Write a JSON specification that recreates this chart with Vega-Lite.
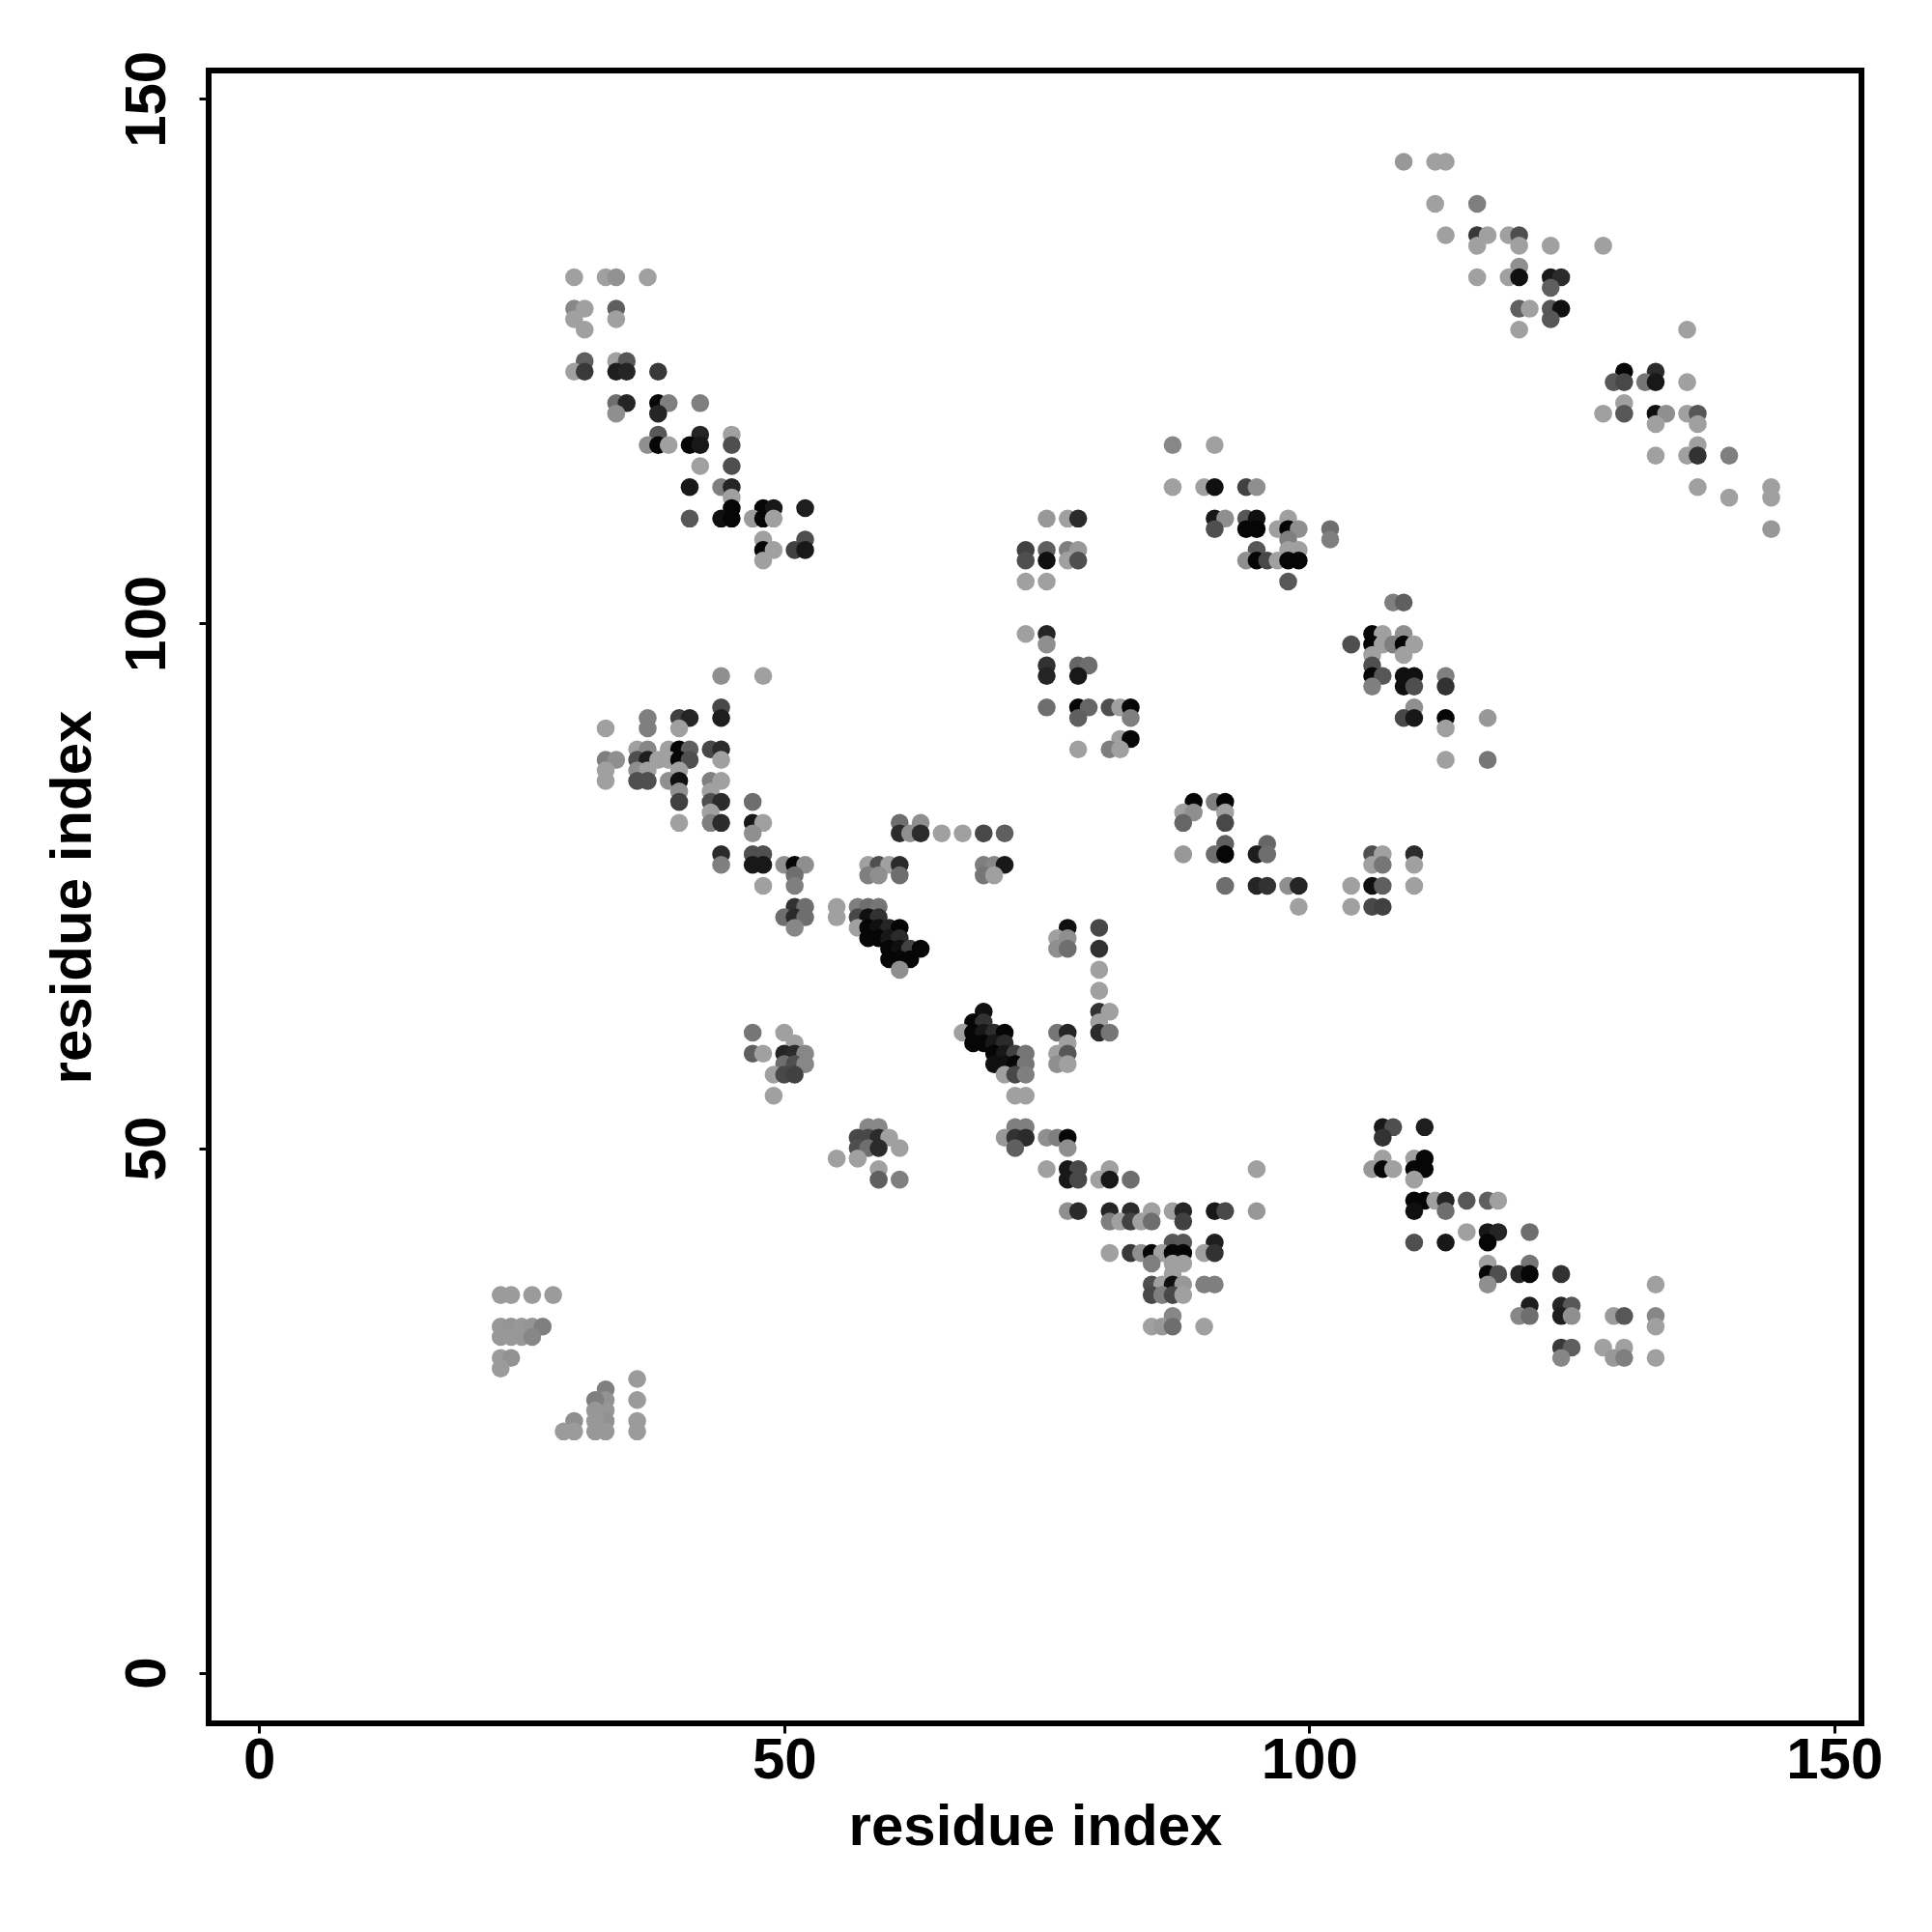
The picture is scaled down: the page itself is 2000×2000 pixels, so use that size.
{"$schema":"https://vega.github.io/schema/vega-lite/v6.json","autosize":{"type":"none"},"padding":{"left":216,"top":73,"right":73,"bottom":216},"width":1711,"height":1711,"background":"white","config":{"view":{"stroke":"#000000","strokeWidth":6,"fill":null}},"data":{"values":[
{"x":23,"y":36,"p":0.03},{"x":24,"y":36,"p":0.03},{"x":26,"y":36,"p":0.03},{"x":28,"y":36,"p":0.03},
{"x":23,"y":33,"p":0.05},{"x":24,"y":33,"p":0.07},{"x":25,"y":33,"p":0.05},{"x":26,"y":33,"p":0.07},{"x":27,"y":33,"p":0.2},
{"x":23,"y":32,"p":0.05},{"x":24,"y":32,"p":0.05},{"x":25,"y":32,"p":0.05},{"x":26,"y":32,"p":0.15},
{"x":23,"y":30,"p":0.03},{"x":24,"y":30,"p":0.08},{"x":23,"y":29,"p":0.03},
{"x":36,"y":28,"p":0.03},{"x":36,"y":26,"p":0.03},{"x":36,"y":24,"p":0.03},{"x":36,"y":23,"p":0.03},
{"x":33,"y":27,"p":0.2},{"x":33,"y":26,"p":0.08},{"x":33,"y":25,"p":0.06},{"x":33,"y":24,"p":0.08},{"x":33,"y":23,"p":0.05},
{"x":32,"y":26,"p":0.2},{"x":32,"y":25,"p":0.06},{"x":32,"y":24,"p":0.05},{"x":32,"y":23,"p":0.05},
{"x":30,"y":24,"p":0.1},{"x":30,"y":23,"p":0.03},{"x":29,"y":23,"p":0.03},

{"x":30,"y":133,"p":0},{"x":33,"y":133,"p":0},{"x":34,"y":133,"p":0.08},{"x":37,"y":133,"p":0},
{"x":30,"y":130,"p":0.15},{"x":31,"y":130,"p":0},{"x":34,"y":130,"p":0.4},{"x":30,"y":129,"p":0},{"x":34,"y":129,"p":0},{"x":31,"y":128,"p":0},
{"x":31,"y":125,"p":0.4},{"x":34,"y":125,"p":0},{"x":35,"y":125,"p":0.45},
{"x":30,"y":124,"p":0},{"x":31,"y":124,"p":0.65},{"x":34,"y":124,"p":0.85},{"x":35,"y":124,"p":0.8},{"x":38,"y":124,"p":0.65},
{"x":34,"y":121,"p":0.3},{"x":35,"y":121,"p":0.8},{"x":38,"y":121,"p":1},{"x":39,"y":121,"p":0.2},{"x":42,"y":121,"p":0.2},
{"x":34,"y":120,"p":0.1},{"x":38,"y":120,"p":0.8},
{"x":38,"y":118,"p":0.45},{"x":42,"y":118,"p":0.8},{"x":45,"y":118,"p":0},
{"x":37,"y":117,"p":0.1},{"x":38,"y":117,"p":1},{"x":39,"y":117,"p":0},{"x":41,"y":117,"p":1},{"x":42,"y":117,"p":0.9},{"x":45,"y":117,"p":0.5},
{"x":42,"y":115,"p":0},{"x":45,"y":115,"p":0.5},
{"x":41,"y":113,"p":0.9},{"x":44,"y":113,"p":0.2},{"x":45,"y":113,"p":0.8},{"x":45,"y":112,"p":0},
{"x":45,"y":111,"p":1},{"x":48,"y":111,"p":1},{"x":49,"y":111,"p":0.9},{"x":52,"y":111,"p":0.85},
{"x":41,"y":110,"p":0.45},{"x":44,"y":110,"p":0.95},{"x":45,"y":110,"p":1},{"x":47,"y":110,"p":0.03},{"x":48,"y":110,"p":1},{"x":49,"y":110,"p":0},
{"x":48,"y":108,"p":0},{"x":52,"y":108,"p":0.5},
{"x":48,"y":107,"p":1},{"x":49,"y":107,"p":0},{"x":51,"y":107,"p":0.6},{"x":52,"y":107,"p":0.9},{"x":48,"y":106,"p":0},

{"x":44,"y":95,"p":0.1},{"x":48,"y":95,"p":0},
{"x":44,"y":92,"p":0.55},
{"x":37,"y":91,"p":0.2},{"x":40,"y":91,"p":0.6},{"x":41,"y":91,"p":0.8},{"x":44,"y":91,"p":0.85},
{"x":33,"y":90,"p":0},{"x":37,"y":90,"p":0.2},{"x":40,"y":90,"p":0},
{"x":36,"y":88,"p":0},{"x":37,"y":88,"p":0.15},{"x":39,"y":88,"p":0},{"x":40,"y":88,"p":1},{"x":41,"y":88,"p":0.4},{"x":43,"y":88,"p":0.55},{"x":44,"y":88,"p":0.75},
{"x":33,"y":87,"p":0.2},{"x":34,"y":87,"p":0.1},{"x":36,"y":87,"p":0.5},{"x":37,"y":87,"p":0.85},{"x":38,"y":87,"p":0},{"x":39,"y":87,"p":0},{"x":40,"y":87,"p":1},{"x":41,"y":87,"p":0.5},{"x":44,"y":87,"p":0},
{"x":33,"y":86,"p":0},{"x":36,"y":86,"p":0.1},{"x":37,"y":86,"p":0},{"x":40,"y":86,"p":0},
{"x":33,"y":85,"p":0},{"x":36,"y":85,"p":0.5},{"x":37,"y":85,"p":0.5},{"x":39,"y":85,"p":0.1},{"x":40,"y":85,"p":0.95},{"x":43,"y":85,"p":0.2},{"x":44,"y":85,"p":0},
{"x":40,"y":84,"p":0.1},{"x":43,"y":84,"p":0},
{"x":40,"y":83,"p":0.6},{"x":43,"y":83,"p":0.5},{"x":44,"y":83,"p":0.75},{"x":47,"y":83,"p":0.3},
{"x":43,"y":82,"p":0},
{"x":40,"y":81,"p":0},{"x":43,"y":81,"p":0.2},{"x":44,"y":81,"p":0.75},{"x":47,"y":81,"p":0.9},{"x":48,"y":81,"p":0},{"x":47,"y":80,"p":0.1},
{"x":44,"y":78,"p":0.75},{"x":47,"y":78,"p":0.5},{"x":48,"y":78,"p":0.5},
{"x":44,"y":77,"p":0.2},{"x":47,"y":77,"p":0.9},{"x":48,"y":77,"p":0.9},{"x":50,"y":77,"p":0.1},{"x":51,"y":77,"p":1},{"x":52,"y":77,"p":0.1},
{"x":51,"y":76,"p":0.3},{"x":48,"y":75,"p":0},{"x":51,"y":75,"p":0.2},
{"x":51,"y":73,"p":0.7},{"x":52,"y":73,"p":0.3},
{"x":50,"y":72,"p":0.3},{"x":51,"y":72,"p":0.75},{"x":52,"y":72,"p":0.3},{"x":51,"y":71,"p":0.15},

{"x":61,"y":81,"p":0.3},{"x":63,"y":81,"p":0.1},
{"x":61,"y":80,"p":0.75},{"x":62,"y":80,"p":0.1},{"x":63,"y":80,"p":0.75},{"x":65,"y":80,"p":0},{"x":67,"y":80,"p":0},{"x":69,"y":80,"p":0.55},{"x":71,"y":80,"p":0.4},
{"x":58,"y":77,"p":0},{"x":59,"y":77,"p":0.5},{"x":60,"y":77,"p":0},{"x":61,"y":77,"p":0.75},{"x":69,"y":77,"p":0.2},{"x":70,"y":77,"p":0.15},{"x":71,"y":77,"p":0.9},
{"x":58,"y":76,"p":0.2},{"x":59,"y":76,"p":0.1},{"x":61,"y":76,"p":0.3},{"x":69,"y":76,"p":0.25},{"x":70,"y":76,"p":0},
{"x":55,"y":73,"p":0},{"x":57,"y":73,"p":0.2},{"x":58,"y":73,"p":0.3},{"x":59,"y":73,"p":0.25},
{"x":55,"y":72,"p":0},{"x":57,"y":72,"p":0.55},{"x":58,"y":72,"p":0.95},{"x":59,"y":72,"p":0.7},
{"x":57,"y":71,"p":0},{"x":58,"y":71,"p":1},{"x":59,"y":71,"p":0.95},{"x":60,"y":71,"p":0.8},{"x":61,"y":71,"p":1},
{"x":58,"y":70,"p":1},{"x":59,"y":70,"p":1},{"x":60,"y":70,"p":0.9},{"x":61,"y":70,"p":0.75},
{"x":60,"y":69,"p":1},{"x":61,"y":69,"p":0.95},{"x":62,"y":69,"p":0.6},{"x":63,"y":69,"p":1},
{"x":60,"y":68,"p":1},{"x":61,"y":68,"p":1},{"x":62,"y":68,"p":1},{"x":61,"y":67,"p":0.1},

{"x":47,"y":61,"p":0.25},{"x":50,"y":61,"p":0},{"x":51,"y":60,"p":0},
{"x":47,"y":59,"p":0.4},{"x":48,"y":59,"p":0},{"x":50,"y":59,"p":0.8},{"x":51,"y":59,"p":0.75},{"x":52,"y":59,"p":0.15},
{"x":50,"y":58,"p":0.3},{"x":51,"y":58,"p":0.5},{"x":52,"y":58,"p":0.15},
{"x":49,"y":57,"p":0},{"x":50,"y":57,"p":0.55},{"x":51,"y":57,"p":0.6},{"x":49,"y":55,"p":0},
{"x":58,"y":52,"p":0.15},{"x":59,"y":52,"p":0.15},
{"x":57,"y":51,"p":0.55},{"x":58,"y":51,"p":0.55},{"x":59,"y":51,"p":0.75},{"x":60,"y":51,"p":0},
{"x":57,"y":50,"p":0.5},{"x":58,"y":50,"p":0.3},{"x":59,"y":50,"p":0.75},{"x":61,"y":50,"p":0},
{"x":55,"y":49,"p":0},{"x":57,"y":49,"p":0},{"x":59,"y":48,"p":0},{"x":59,"y":47,"p":0.4},{"x":61,"y":47,"p":0.2},

{"x":69,"y":63,"p":0.95},{"x":68,"y":62,"p":1},{"x":69,"y":62,"p":0.7},
{"x":67,"y":61,"p":0},{"x":68,"y":61,"p":1},{"x":69,"y":61,"p":0.9},{"x":70,"y":61,"p":0.75},{"x":71,"y":61,"p":1},
{"x":68,"y":60,"p":1},{"x":69,"y":60,"p":1},{"x":70,"y":60,"p":0.9},{"x":71,"y":60,"p":0.75},
{"x":70,"y":59,"p":1},{"x":71,"y":59,"p":0.9},{"x":72,"y":59,"p":0.6},{"x":73,"y":59,"p":0.25},
{"x":70,"y":58,"p":0.95},{"x":71,"y":58,"p":0.95},{"x":72,"y":58,"p":1},{"x":73,"y":58,"p":0.25},
{"x":71,"y":57,"p":0},{"x":72,"y":57,"p":0.55},{"x":73,"y":57,"p":0.2},{"x":72,"y":55,"p":0},{"x":73,"y":55,"p":0},
{"x":76,"y":61,"p":0.25},{"x":77,"y":61,"p":0.8},{"x":77,"y":60,"p":0},{"x":76,"y":59,"p":0},{"x":77,"y":59,"p":0.45},{"x":76,"y":58,"p":0.1},{"x":77,"y":58,"p":0},
{"x":80,"y":65,"p":0},{"x":80,"y":63,"p":0.7},{"x":81,"y":63,"p":0},{"x":80,"y":62,"p":0},{"x":80,"y":61,"p":0.75},{"x":81,"y":61,"p":0.25},
{"x":77,"y":71,"p":0.95},{"x":80,"y":71,"p":0.55},{"x":76,"y":70,"p":0},{"x":77,"y":70,"p":0.1},{"x":76,"y":69,"p":0.1},{"x":77,"y":69,"p":0.3},{"x":80,"y":69,"p":0.7},{"x":80,"y":67,"p":0},

{"x":72,"y":52,"p":0.2},{"x":73,"y":52,"p":0.2},
{"x":71,"y":51,"p":0.05},{"x":72,"y":51,"p":0.7},{"x":73,"y":51,"p":0.75},{"x":75,"y":51,"p":0.1},{"x":76,"y":51,"p":0.2},{"x":77,"y":51,"p":1},
{"x":72,"y":50,"p":0.4},{"x":77,"y":50,"p":0.1},
{"x":75,"y":48,"p":0},{"x":77,"y":48,"p":0.9},{"x":78,"y":48,"p":0.55},{"x":81,"y":48,"p":0},{"x":95,"y":48,"p":0},
{"x":77,"y":47,"p":0.9},{"x":78,"y":47,"p":0.55},{"x":80,"y":47,"p":0},{"x":81,"y":47,"p":0.9},{"x":83,"y":47,"p":0.3},

{"x":77,"y":44,"p":0.1},{"x":78,"y":44,"p":0.75},{"x":81,"y":44,"p":0.8},{"x":83,"y":44,"p":0.75},{"x":85,"y":44,"p":0},{"x":87,"y":44,"p":0},{"x":88,"y":44,"p":0.8},{"x":91,"y":44,"p":0.9},{"x":92,"y":44,"p":0.55},{"x":95,"y":44,"p":0.05},
{"x":81,"y":43,"p":0.2},{"x":82,"y":43,"p":0},{"x":83,"y":43,"p":0.6},{"x":84,"y":43,"p":0},{"x":85,"y":43,"p":0.3},{"x":88,"y":43,"p":0.6},
{"x":87,"y":41,"p":0.45},{"x":88,"y":41,"p":0.45},{"x":91,"y":41,"p":0.85},
{"x":81,"y":40,"p":0},{"x":83,"y":40,"p":0.65},{"x":84,"y":40,"p":0.1},{"x":85,"y":40,"p":1},{"x":86,"y":40,"p":0},{"x":87,"y":40,"p":1},{"x":88,"y":40,"p":1},{"x":90,"y":40,"p":0},{"x":91,"y":40,"p":0.7},
{"x":85,"y":39,"p":0.2},{"x":87,"y":39,"p":0},{"x":88,"y":39,"p":0},{"x":87,"y":38,"p":0},
{"x":85,"y":37,"p":0.5},{"x":86,"y":37,"p":0},{"x":87,"y":37,"p":0.95},{"x":88,"y":37,"p":0.05},{"x":90,"y":37,"p":0.2},{"x":91,"y":37,"p":0.2},
{"x":85,"y":36,"p":0.55},{"x":86,"y":36,"p":0.2},{"x":87,"y":36,"p":0.55},{"x":88,"y":36,"p":0},
{"x":87,"y":34,"p":0.15},{"x":85,"y":33,"p":0},{"x":86,"y":33,"p":0.05},{"x":87,"y":33,"p":0.3},{"x":90,"y":33,"p":0},

{"x":107,"y":52,"p":0.9},{"x":108,"y":52,"p":0.5},{"x":111,"y":52,"p":0.85},{"x":107,"y":51,"p":0.7},
{"x":107,"y":49,"p":0},{"x":110,"y":49,"p":0},{"x":111,"y":49,"p":1},
{"x":106,"y":48,"p":0.05},{"x":107,"y":48,"p":1},{"x":108,"y":48,"p":0},{"x":110,"y":48,"p":1},{"x":111,"y":48,"p":1},{"x":110,"y":47,"p":0},
{"x":110,"y":45,"p":1},{"x":111,"y":45,"p":1},{"x":112,"y":45,"p":0},{"x":113,"y":45,"p":0.8},{"x":115,"y":45,"p":0.45},{"x":117,"y":45,"p":0.4},{"x":118,"y":45,"p":0},
{"x":110,"y":44,"p":0.95},{"x":113,"y":44,"p":0.3},
{"x":115,"y":42,"p":0},{"x":117,"y":42,"p":0.9},{"x":118,"y":42,"p":0.8},{"x":121,"y":42,"p":0.3},
{"x":110,"y":41,"p":0.5},{"x":113,"y":41,"p":0.9},{"x":117,"y":41,"p":1},
{"x":117,"y":39,"p":0},{"x":121,"y":39,"p":0.25},
{"x":117,"y":38,"p":1},{"x":118,"y":38,"p":0.5},{"x":120,"y":38,"p":0.8},{"x":121,"y":38,"p":1},{"x":124,"y":38,"p":0.7},
{"x":117,"y":37,"p":0.1},{"x":133,"y":37,"p":0},
{"x":121,"y":35,"p":0.85},{"x":124,"y":35,"p":0.8},{"x":125,"y":35,"p":0.45},
{"x":120,"y":34,"p":0.15},{"x":121,"y":34,"p":0.3},{"x":124,"y":34,"p":0.85},{"x":125,"y":34,"p":0.1},{"x":129,"y":34,"p":0.03},{"x":130,"y":34,"p":0.45},{"x":133,"y":34,"p":0.15},
{"x":133,"y":33,"p":0},
{"x":124,"y":31,"p":0.65},{"x":125,"y":31,"p":0.4},{"x":128,"y":31,"p":0},{"x":130,"y":31,"p":0},
{"x":124,"y":30,"p":0.15},{"x":129,"y":30,"p":0.05},{"x":130,"y":30,"p":0.2},{"x":133,"y":30,"p":0},

{"x":75,"y":110,"p":0.05},{"x":77,"y":110,"p":0},{"x":78,"y":110,"p":0.75},
{"x":73,"y":107,"p":0.6},{"x":75,"y":107,"p":0.4},{"x":77,"y":107,"p":0.2},{"x":78,"y":107,"p":0.05},
{"x":73,"y":106,"p":0.5},{"x":75,"y":106,"p":0.95},{"x":77,"y":106,"p":0},{"x":78,"y":106,"p":0.5},
{"x":73,"y":104,"p":0},{"x":75,"y":104,"p":0},
{"x":73,"y":99,"p":0},{"x":75,"y":99,"p":0.8},{"x":75,"y":98,"p":0.1},
{"x":75,"y":96,"p":0.7},{"x":78,"y":96,"p":0.35},{"x":79,"y":96,"p":0.3},
{"x":75,"y":95,"p":0.8},{"x":78,"y":95,"p":0.9},
{"x":75,"y":92,"p":0.3},{"x":78,"y":92,"p":1},{"x":79,"y":92,"p":0.35},{"x":81,"y":92,"p":0.5},{"x":82,"y":92,"p":0},{"x":83,"y":92,"p":1},
{"x":78,"y":91,"p":0.4},{"x":83,"y":91,"p":0.2},
{"x":82,"y":89,"p":0},{"x":83,"y":89,"p":1},{"x":78,"y":88,"p":0},{"x":81,"y":88,"p":0.2},{"x":82,"y":88,"p":0},

{"x":87,"y":117,"p":0.15},{"x":91,"y":117,"p":0},
{"x":87,"y":113,"p":0},{"x":90,"y":113,"p":0},{"x":91,"y":113,"p":0.95},{"x":94,"y":113,"p":0.6},{"x":95,"y":113,"p":0.1},
{"x":91,"y":110,"p":0.9},{"x":92,"y":110,"p":0.1},{"x":94,"y":110,"p":0.45},{"x":95,"y":110,"p":0.95},{"x":98,"y":110,"p":0},
{"x":91,"y":109,"p":0.5},{"x":94,"y":109,"p":1},{"x":95,"y":109,"p":1},{"x":97,"y":109,"p":0},{"x":98,"y":109,"p":1},{"x":99,"y":109,"p":0.1},{"x":102,"y":109,"p":0.3},
{"x":98,"y":108,"p":0.2},{"x":102,"y":108,"p":0.2},
{"x":95,"y":107,"p":0.45},{"x":98,"y":107,"p":0},{"x":99,"y":107,"p":0},
{"x":94,"y":106,"p":0.1},{"x":95,"y":106,"p":1},{"x":96,"y":106,"p":0.55},{"x":97,"y":106,"p":0},{"x":98,"y":106,"p":1},{"x":99,"y":106,"p":1},
{"x":98,"y":104,"p":0.45},

{"x":108,"y":102,"p":0.2},{"x":109,"y":102,"p":0.4},
{"x":106,"y":99,"p":1},{"x":107,"y":99,"p":0},{"x":109,"y":99,"p":0.1},
{"x":104,"y":98,"p":0.5},{"x":106,"y":98,"p":1},{"x":107,"y":98,"p":0},{"x":108,"y":98,"p":0.2},{"x":109,"y":98,"p":1},{"x":110,"y":98,"p":0},
{"x":106,"y":97,"p":0},{"x":109,"y":97,"p":0},{"x":106,"y":96,"p":0.5},
{"x":106,"y":95,"p":1},{"x":107,"y":95,"p":0.45},{"x":109,"y":95,"p":0.95},{"x":110,"y":95,"p":0.95},{"x":113,"y":95,"p":0.2},
{"x":106,"y":94,"p":0.2},{"x":109,"y":94,"p":0.95},{"x":110,"y":94,"p":0.5},{"x":113,"y":94,"p":0.7},
{"x":110,"y":92,"p":0.1},{"x":109,"y":91,"p":0.55},{"x":110,"y":91,"p":0.9},{"x":113,"y":91,"p":1},{"x":117,"y":91,"p":0.05},
{"x":113,"y":90,"p":0},{"x":113,"y":87,"p":0},{"x":117,"y":87,"p":0.25},

{"x":89,"y":83,"p":1},{"x":91,"y":83,"p":0.2},{"x":92,"y":83,"p":1},
{"x":88,"y":82,"p":0},{"x":89,"y":82,"p":0.1},{"x":92,"y":82,"p":0},
{"x":88,"y":81,"p":0.35},{"x":92,"y":81,"p":0.55},
{"x":92,"y":79,"p":0.4},{"x":96,"y":79,"p":0.35},
{"x":88,"y":78,"p":0.05},{"x":91,"y":78,"p":0.3},{"x":92,"y":78,"p":1},{"x":95,"y":78,"p":0.85},{"x":96,"y":78,"p":0.3},{"x":106,"y":78,"p":0.5},{"x":107,"y":78,"p":0},{"x":110,"y":78,"p":0.75},
{"x":106,"y":77,"p":0},{"x":107,"y":77,"p":0.25},{"x":110,"y":77,"p":0},
{"x":92,"y":75,"p":0.3},{"x":95,"y":75,"p":0.8},{"x":96,"y":75,"p":0.7},{"x":98,"y":75,"p":0.1},{"x":99,"y":75,"p":0.8},{"x":104,"y":75,"p":0},{"x":106,"y":75,"p":0.95},{"x":107,"y":75,"p":0.4},{"x":110,"y":75,"p":0},
{"x":99,"y":73,"p":0},{"x":104,"y":73,"p":0},{"x":106,"y":73,"p":0.55},{"x":107,"y":73,"p":0.6},

{"x":109,"y":144,"p":0.05},{"x":112,"y":144,"p":0},{"x":113,"y":144,"p":0},
{"x":112,"y":140,"p":0},{"x":116,"y":140,"p":0.2},
{"x":113,"y":137,"p":0},{"x":116,"y":137,"p":0.65},{"x":117,"y":137,"p":0},{"x":119,"y":137,"p":0},{"x":120,"y":137,"p":0.5},
{"x":116,"y":136,"p":0},{"x":120,"y":136,"p":0},{"x":123,"y":136,"p":0},{"x":128,"y":136,"p":0},
{"x":120,"y":134,"p":0.1},
{"x":116,"y":133,"p":0},{"x":119,"y":133,"p":0},{"x":120,"y":133,"p":0.95},{"x":123,"y":133,"p":0.9},{"x":124,"y":133,"p":0.75},
{"x":123,"y":132,"p":0.4},
{"x":120,"y":130,"p":0.4},{"x":121,"y":130,"p":0},{"x":123,"y":130,"p":0.45},{"x":124,"y":130,"p":0.95},
{"x":123,"y":129,"p":0.45},{"x":120,"y":128,"p":0},{"x":136,"y":128,"p":0},
{"x":130,"y":124,"p":1},{"x":133,"y":124,"p":0.75},
{"x":129,"y":123,"p":0.45},{"x":130,"y":123,"p":0.55},{"x":132,"y":123,"p":0.25},{"x":133,"y":123,"p":0.9},{"x":136,"y":123,"p":0},
{"x":130,"y":121,"p":0},
{"x":128,"y":120,"p":0},{"x":130,"y":120,"p":0.45},{"x":133,"y":120,"p":0.95},{"x":134,"y":120,"p":0.1},{"x":136,"y":120,"p":0},{"x":137,"y":120,"p":0.45},
{"x":133,"y":119,"p":0},{"x":137,"y":119,"p":0},{"x":137,"y":117,"p":0},
{"x":133,"y":116,"p":0},{"x":136,"y":116,"p":0},{"x":137,"y":116,"p":0.7},{"x":140,"y":116,"p":0.2},
{"x":137,"y":113,"p":0},{"x":144,"y":113,"p":0},{"x":140,"y":112,"p":0},{"x":144,"y":112,"p":0},{"x":144,"y":109,"p":0.05}
]},
"mark":{"type":"circle","size":345,"opacity":1},
"encoding":{
"x":{"field":"x","type":"quantitative","scale":{"domain":[-4.81,152.6],"nice":false,"zero":false},
"axis":{"title":"residue index","values":[0,50,100,150],"grid":false,"domain":false,"ticks":true,"tickSize":10,"tickWidth":3,"tickColor":"#000000","labelFont":"Liberation Sans","labelFontWeight":"bold","labelFontSize":60,"labelColor":"#000000","labelBaseline":"alphabetic","labelPadding":46,"labelOverlap":false,"labelFlush":false,"titleFont":"Liberation Sans","titleFontWeight":"bold","titleFontSize":60,"titleColor":"#000000","titlePadding":10}},
"y":{"field":"y","type":"quantitative","scale":{"domain":[-4.82,152.7],"nice":false,"zero":false},
"axis":{"title":"residue index","values":[0,50,100,150],"grid":false,"domain":false,"ticks":true,"tickSize":10,"tickWidth":3,"tickColor":"#000000","labelFont":"Liberation Sans","labelFontWeight":"bold","labelFontSize":60,"labelColor":"#000000","labelAngle":270,"labelAlign":"center","labelBaseline":"alphabetic","labelPadding":36,"labelOverlap":false,"labelFlush":false,"titleFont":"Liberation Sans","titleFontWeight":"bold","titleFontSize":60,"titleColor":"#000000","titlePadding":16}},
"color":{"field":"p","type":"quantitative","scale":{"domain":[0,1],"range":["#a0a0a0","#060606"]},"legend":null},
"order":[{"field":"x","type":"quantitative"},{"field":"y","type":"quantitative"}]
}}
